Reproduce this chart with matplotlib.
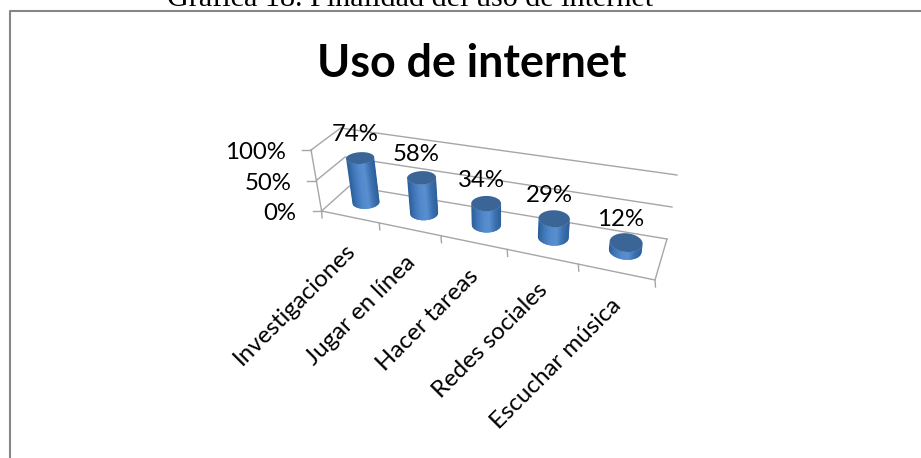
import numpy as np
import matplotlib
matplotlib.use('Agg')
import matplotlib.pyplot as plt
from matplotlib.colors import LinearSegmentedColormap

categories = ['Investigaciones', 'Jugar en línea', 'Hacer tareas', 'Redes sociales', 'Escuchar música']
values = [0.74, 0.58, 0.34, 0.29, 0.12]
value_ticks = [0, 0.5, 1.0]
tick_labels = ['0%', '50%', '100%']
title = 'Uso de internet'
caption = 'Gráfica 18. Finalidad del uso de internet'

# floor corners of the 3d box, in pixels
FRONT_L = np.array([321.6, 211.0])
FRONT_R = np.array([655.0, 280.0])
BACK_L = np.array([349.5, 186.0])
BACK_R = np.array([667.0, 239.0])
PERSP = 1.195  # foreshortening along the category axis


def project(t, d, v):
    # t along categories (0-1), d depth (0-1), v value (0-1)
    t = np.asarray(t, dtype=float)
    d = np.asarray(d, dtype=float)
    v = np.asarray(v, dtype=float)
    u = t / (t + PERSP * (1 - t))
    front_x = FRONT_L[0] + u * (FRONT_R[0] - FRONT_L[0])
    front_y = FRONT_L[1] + u * (FRONT_R[1] - FRONT_L[1])
    back_x = BACK_L[0] + u * (BACK_R[0] - BACK_L[0])
    back_y = BACK_L[1] + u * (BACK_R[1] - BACK_L[1])
    x = front_x + d * (back_x - front_x)
    y = front_y + d * (back_y - front_y)
    # verticals lean away from a vanishing point below the chart
    lean = (x - 499) * 0.0595
    height = 61 - 3 * d + u * (5 + 1 * d)
    return x + lean * v, y - height * v


plt.rcParams['font.family'] = ['Lato', 'DejaVu Sans']
fig = plt.figure(figsize=(9.21, 4.58), dpi=100)
ax = fig.add_axes([0, 0, 1, 1])
ax.set_xlim(0, 921)
ax.set_ylim(458, 0)
ax.axis('off')

# outer frame of the chart
ax.plot([10, 10, 921], [458, 11, 11], color='#868686', lw=1.5, solid_capstyle='butt')
ax.text(410, 6, caption, family='Liberation Serif', fontsize=21.7, ha='center', va='baseline')
ax.text(472, 64, title, fontsize=32.3, fontweight='bold', ha='center', va='center')

grid_color = '#a6a6a6'
for v, lab in zip(value_ticks, tick_labels):
    # left wall and back wall gridlines
    xs, ys = project([0, 0, 1], [0, 1, 1], [v, v, v])
    ax.plot(xs, ys, color=grid_color, lw=1.0)
    x0, y0 = project(0, 0, v)
    ax.plot([x0 - 9, x0], [y0, y0], color=grid_color, lw=1.0)
    ax.text(x0 - 25, y0 + 2.5, lab, fontsize=17.3, ha='right', va='center')

# vertical edge and floor front / side
xs, ys = project([0, 0], [0, 0], [0, 1])
ax.plot(xs, ys, color=grid_color, lw=1.0)
xs, ys = project([0, 1, 1], [0, 0, 1], [0, 0, 0])
ax.plot(xs, ys, color=grid_color, lw=1.0)

n = len(categories)
for i in range(n + 1):
    x0, y0 = project(i / n, 0, 0)
    ax.plot([x0, x0 + 0.5], [y0, y0 + 7], color=grid_color, lw=1.0)

body_cmap = LinearSegmentedColormap.from_list('body', ['#2a5a92', '#3f76b8', '#5089cc', '#5a90d0', '#3a6fb0', '#2c5c94'])
top_color = '#3b6596'
radius_t = 0.043
radius_d = 0.23
theta = np.linspace(0, 2 * np.pi, 241)[:-1]
strips = 40

for i, (cat, val) in enumerate(zip(categories, values)):
    tc = (i + 0.5) / n + 0.004
    dc = 0.56
    tt = tc + radius_t * np.cos(theta)
    dd = dc + radius_d * np.sin(theta)
    bx, by = project(tt, dd, 0 * theta)
    ux, uy = project(tt, dd, val + 0 * theta)

    # silhouette points, measured across the cylinder axis
    cx0, cy0 = project(tc, dc, 0)
    cx, cy = project(tc, dc, val)
    axis = np.array([cx - cx0, cy - cy0]) / np.hypot(cx - cx0, cy - cy0)
    across = np.array([-axis[1], axis[0]])
    p = (bx - cx0) * across[0] + (by - cy0) * across[1]
    k_a, k_b = sorted([int(np.argmin(p)), int(np.argmax(p))])
    arc1 = np.arange(k_a, k_b + 1)
    arc2 = np.r_[np.arange(k_b, len(theta)), np.arange(0, k_a + 1)]
    # the front arc is the one lower on screen
    arc = arc1 if by[arc1].mean() > by[arc2].mean() else arc2

    # body outline, used to clip the shaded strips
    outline = np.column_stack([np.r_[bx[arc], ux[arc][::-1]], np.r_[by[arc], uy[arc][::-1]]])
    body = plt.Polygon(outline, closed=True, facecolor=body_cmap(0.5), edgecolor='none', zorder=3)
    ax.add_patch(body)
    edges = np.linspace(p.min(), p.max(), strips + 1)
    for j in range(strips):
        a, b = edges[j], edges[j + 1] + 0.3
        quad = np.array([
            [cx0 + across[0] * a + axis[0] * s, cy0 + across[1] * a + axis[1] * s] for s in (-40, 120)
        ] + [
            [cx0 + across[0] * b + axis[0] * s, cy0 + across[1] * b + axis[1] * s] for s in (120, -40)
        ])
        strip = plt.Polygon(quad, closed=True, facecolor=body_cmap((j + 0.5) / strips), edgecolor='none', zorder=3)
        ax.add_patch(strip)
        strip.set_clip_path(body)
    ax.fill(ux, uy, color=top_color, lw=0, zorder=4)
    ax.text(cx - 5, cy - 23.5, f'{val:.0%}', fontsize=17.3, ha='center', va='center', zorder=5)

    # category label runs up to the middle of its slot
    lx, ly = project((i + 0.5) / n, 0, 0)
    ax.text(lx + 2, ly + 30, cat, fontsize=17.3, rotation=45, rotation_mode='anchor', ha='right', va='center')

fig.savefig('out.png', dpi=100)
